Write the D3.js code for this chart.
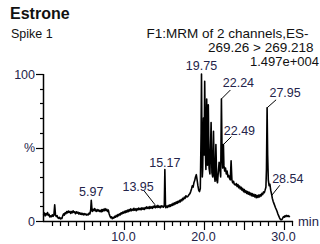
<!DOCTYPE html>
<html><head><meta charset="utf-8">
<script src="https://cdn.jsdelivr.net/npm/d3@7"></script>
<style>
html,body{margin:0;padding:0;background:#fff;overflow:hidden}
svg{display:block}
text{font-family:"Liberation Sans",Arial,sans-serif}
</style></head><body>
<svg id="c" width="320" height="244"></svg>
<script>
// ---- data ----
const title = "Estrone";
const sampleName = "Spike 1";
const headerLines = ["F1:MRM of 2 channels,ES-", "269.26 > 269.218", "1.497e+004"];
const xTicks = [10, 20, 30];
const xTickLabels = ["10.0", "20.0", "30.0"];
const yTickLabels = ["0", "%", "100"];
const yTickValues = [0, 50, 100];
const xUnit = "min";

const times = [
0.0,0.1,0.2,0.3,0.4,0.5,0.6,0.7,0.8,0.9,1.0,1.1,1.2,1.3,1.4,1.5,1.6,1.7,1.8,1.9,
2.0,2.1,2.2,2.3,2.4,2.5,2.6,2.7,2.8,2.9,3.0,3.1,3.2,3.3,3.4,3.5,3.6,3.7,3.8,3.9,
4.0,4.1,4.2,4.3,4.4,4.5,4.6,4.7,4.8,4.9,5.0,5.1,5.2,5.3,5.4,5.5,5.6,5.7,5.8,5.9,5.97,6.05,
6.1,6.2,6.3,6.4,6.5,6.6,6.7,6.8,6.9,7.0,7.1,7.2,7.3,7.4,7.5,7.6,7.7,7.8,7.9,
8.0,8.1,8.2,8.3,8.4,8.5,8.6,8.7,8.8,8.9,9.0,9.1,9.2,9.3,9.4,9.5,9.6,9.7,9.8,9.9,
10.0,10.1,10.2,10.3,10.4,10.5,10.6,10.7,10.8,10.9,11.0,11.1,11.2,11.3,11.4,11.5,11.6,11.7,11.8,11.9,
12.0,12.1,12.2,12.3,12.4,12.5,12.6,12.7,12.8,12.9,13.0,13.1,13.2,13.3,13.4,13.5,13.6,13.7,13.8,13.9,
14.0,14.1,14.2,14.3,14.4,14.5,14.6,14.7,14.8,14.9,15.0,15.1,15.17,15.25,15.3,15.4,15.5,15.6,15.7,15.8,15.9,
16.0,16.1,16.2,16.3,16.4,16.5,16.6,16.7,16.8,16.9,17.0,17.1,17.2,17.3,17.4,17.5,17.6,17.7,17.8,17.9,
18.0,18.1,18.2,18.3,18.4,18.5,18.6,18.7,18.8,18.9,19.0,19.1,19.2,19.3,19.4,19.5,19.6,19.7,19.75,19.8,19.85,19.9,
20.0,20.08,20.15,20.25,20.3,20.4,20.5,20.6,20.7,20.8,20.95,21.05,21.15,21.25,21.35,21.45,21.55,21.65,21.75,21.85,21.95,
22.05,22.15,22.24,22.32,22.4,22.49,22.55,22.65,22.75,22.85,22.95,23.05,23.15,23.25,23.35,23.45,23.55,23.65,23.75,23.85,
24.0,24.1,24.2,24.3,24.4,24.5,24.6,24.7,24.8,24.9,25.0,25.1,25.2,25.3,25.4,25.5,25.6,25.7,25.8,25.9,
26.0,26.1,26.2,26.3,26.4,26.5,26.6,26.7,26.8,26.9,27.0,27.1,27.2,27.3,27.4,27.5,27.6,27.7,27.8,27.87,27.95,28.02,
28.1,28.2,28.3,28.4,28.54,28.6,28.7,28.8,28.9,29.0,29.1,29.2,29.3,29.4,29.5,29.6,29.7,29.8,29.9,
30.0,30.1,30.2,30.3,30.4,30.5,30.6,30.7,30.8
];
const relIntensity = [
4.0,5.5,3.5,5.0,4.2,5.8,3.8,4.5,2.8,3.5,3.0,4.2,3.2,4.0,11.0,4.0,3.0,3.6,2.2,1.8,
2.5,1.4,2.0,1.6,3.5,4.8,4.0,5.6,5.0,6.4,5.5,6.8,5.9,6.5,5.2,6.4,5.6,6.9,5.8,6.2,
5.0,6.3,5.4,6.0,4.8,5.6,4.6,5.4,4.4,5.2,4.2,5.0,4.3,4.8,4.0,4.6,4.2,5.4,4.8,7.5,14.0,8.5,
6.5,8.0,7.0,8.5,7.2,6.5,7.8,6.8,7.6,6.5,7.2,6.2,7.8,6.6,8.0,7.0,8.4,7.2,8.0,
6.5,7.5,5.0,3.5,2.2,2.8,1.6,2.5,2.0,3.2,2.6,3.8,3.0,4.4,3.6,4.8,4.2,5.6,4.8,6.0,
5.4,6.6,5.6,7.0,6.0,7.4,6.4,7.8,6.8,8.2,7.0,8.0,7.2,8.6,7.4,8.2,7.0,8.4,7.6,8.8,
7.8,8.6,7.6,9.0,8.0,8.8,7.8,9.2,8.4,9.6,8.6,9.4,8.4,9.8,8.8,9.6,8.6,10.0,9.2,10.4,
9.0,10.2,9.2,10.6,9.4,10.0,9.0,10.4,9.6,10.2,9.4,10.4,35.0,10.0,9.0,10.2,9.2,10.6,9.8,11.0,10.0,
11.4,10.6,12.0,11.0,12.4,11.6,13.0,12.0,13.4,12.6,14.0,13.0,14.6,13.8,15.4,14.6,16.2,15.4,17.2,16.4,
16.5,17.2,18.0,18.6,20.0,21.8,24.0,23.0,26.0,27.5,30.0,31.5,28.0,24.0,21.0,20.0,22.0,60.0,100,60,30,35,
70,45,95,45,35,83,38,79,36,32,67,33,30,61,31,27,52,28,26,33,40,
35,30,83,45,36,52,38,34,36,32,34,30,31,29,28,41,28,26,27,25,
24.5,25.5,23.5,24.8,22.6,23.8,21.8,23.0,21.0,22.2,20.0,21.4,19.4,20.6,18.8,20.0,18.2,19.6,17.8,19.0,
17.2,18.6,16.8,18.2,16.4,17.8,15.8,17.4,16.0,17.6,16.4,18.0,17.0,18.8,18.0,19.8,19.2,21.0,23.0,35.0,77.0,45.0,
28.0,24.0,25.0,21.0,17.5,15.5,13.5,12.0,10.5,9.0,7.8,6.5,4.8,3.5,2.2,1.2,0.8,1.0,2.0,
3.0,2.6,3.6,3.0,3.8,3.2,3.6,3.0,3.4
];

// labelled peaks
const peakTimes = [5.97, 13.95, 15.17, 19.75, 22.24, 22.49, 27.95, 28.54];
const peakHeights = [14, 11, 35, 100, 83, 52, 77, 17.5];

// ---- layout (positions/styles, not data) ----
const labelLayout = {
  "5.97":  {dx: 0,   dy: -4,  leader: false},
  "13.95": {dx: -17, dy: -14, leader: true,  lx: -11, ly: -14},
  "15.17": {dx: 0,   dy: -3,  leader: false},
  "19.75": {dx: 0,   dy: -4,  leader: false},
  "22.24": {dx: 17,  dy: -12, leader: true,  lx: 9,  ly: -9},
  "22.49": {dx: 16,  dy: -10, leader: true,  lx: 8,  ly: -8},
  "27.95": {dx: 18,  dy: -11, leader: true,  lx: 9,  ly: -8},
  "28.54": {dx: 16,  dy: -12, leader: true,  lx: 8,  ly: -10}
};

const svg = d3.select("#c");
const x = d3.scaleLinear().domain([0, 31.2]).range([43.5, 293.1]);
const y = d3.scaleLinear().domain([0, 100]).range([221, 74]);
const labelColor = "#24244a";

// header
svg.append("text").attr("x", 10).attr("y", 19).attr("font-size", 16).attr("font-weight", "bold").attr("fill", "#111").text(title);
svg.append("text").attr("x", 11).attr("y", 38).attr("font-size", 12.5).attr("fill", "#111").text(sampleName);
const hx = [146.5, 208, 250], hy = [38, 52, 66];
const hs = [13.5, 13.5, 13];
headerLines.forEach((s, i) => {
  svg.append("text").attr("x", hx[i]).attr("y", hy[i]).attr("font-size", hs[i]).attr("fill", "#111").text(s);
});

// y axis
const yMinor = d3.range(0, 101, 10);
svg.append("line").attr("x1", 43.5).attr("x2", 43.5).attr("y1", y(100)).attr("y2", y(0) + 1).attr("stroke", "#000").attr("stroke-width", 1.5);
svg.selectAll(".ymin").data(yMinor).enter().append("line")
  .attr("x1", d => (d % 50 === 0 ? 36 : 40)).attr("x2", 43.5)
  .attr("y1", d => Math.round(y(d)) + 0.5).attr("y2", d => Math.round(y(d)) + 0.5)
  .attr("stroke", "#000").attr("stroke-width", 1.2);
svg.selectAll(".ylab").data(yTickValues).enter().append("text")
  .attr("x", 35).attr("y", d => y(d) + 4.5).attr("text-anchor", "end")
  .attr("font-size", 12.5).attr("fill", labelColor)
  .text((d, i) => yTickLabels[i]);

// x axis
svg.append("line").attr("x1", 43).attr("x2", x(31.2)).attr("y1", 221.5).attr("y2", 221.5).attr("stroke", "#000").attr("stroke-width", 1.6);
const xMinor = d3.range(1, 32, 1);
svg.selectAll(".xmin").data(xMinor).enter().append("line")
  .attr("x1", d => Math.round(x(d)) + 0.5).attr("x2", d => Math.round(x(d)) + 0.5)
  .attr("y1", 221).attr("y2", d => (d % 5 === 0 ? 230 : 226))
  .attr("stroke", "#000").attr("stroke-width", 1.2);
svg.selectAll(".xlab").data(xTicks).enter().append("text")
  .attr("x", d => x(d)).attr("y", 241).attr("text-anchor", "middle")
  .attr("font-size", 12.5).attr("fill", labelColor)
  .text((d, i) => xTickLabels[i]);
svg.append("text").attr("x", 298).attr("y", 225.5).attr("font-size", 13).attr("fill", labelColor).text(xUnit);

// trace
const pts = times.map((t, i) => [t, relIntensity[i]]);
svg.append("path").datum(pts)
  .attr("d", d3.line().x(d => x(d[0])).y(d => y(d[1])))
  .attr("fill", "none").attr("stroke", "#000").attr("stroke-width", 1.6).attr("stroke-linejoin", "round");

// peak labels
const fmt = d3.format(".2f");
peakTimes.forEach((t, i) => {
  const px = x(t), py = y(peakHeights[i]);
  const L = labelLayout[fmt(t)];
  if (L.leader) {
    svg.append("line").attr("x1", px).attr("y1", py).attr("x2", px + L.lx).attr("y2", py + L.ly)
      .attr("stroke", "#000").attr("stroke-width", 1);
  }
  svg.append("text").attr("x", px + L.dx).attr("y", py + L.dy).attr("text-anchor", "middle")
    .attr("font-size", 12.5).attr("fill", labelColor).text(fmt(t));
});
</script>
</body></html>
